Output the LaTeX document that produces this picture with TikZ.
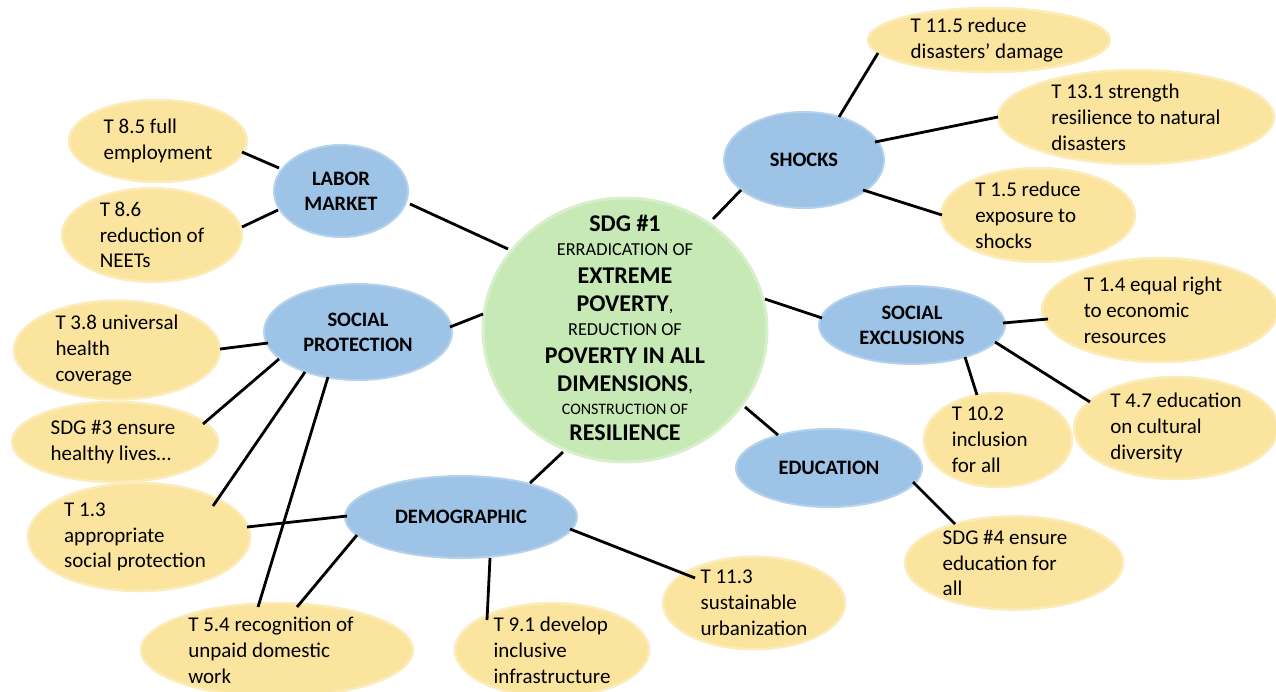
\documentclass[tikz,border=0pt]{standalone}
\usepackage{fontspec}
\setmainfont{Carlito}
\usetikzlibrary{shapes.geometric,calc}
\definecolor{ylw}{HTML}{FBE49E}
\definecolor{blu}{HTML}{9DC3E6}
\definecolor{grn}{HTML}{C6E9B5}
\newcommand{\bigb}{\fontsize{24}{24}\selectfont\bfseries}
\newcommand{\padr}[1]{\hspace*{#1pt}}
\tikzset{
  tgt/.style={ellipse, fill=ylw, draw=ylw!70!white, line width=2.5pt, inner sep=0pt, align=left,
    font=\fontsize{21}{25.8}\selectfont},
  cat/.style={ellipse, fill=blu, draw=blu!75!white, line width=2pt, inner sep=0pt, align=center,
    font=\fontsize{20.5}{25}\selectfont\bfseries},
  core/.style={ellipse, fill=grn, draw=grn!70!white, line width=3pt, inner sep=0pt},
  coretext/.style={inner sep=0pt, align=center, font=\fontsize{18.3}{24}\selectfont},
  lnk/.style={line width=2.8pt, black},
}
\begin{document}
\begin{tikzpicture}[x=1pt,y=-1pt]
\useasboundingbox (0,0) rectangle (1276,691);
% central node
\node[core, minimum width=284, minimum height=264] (c) at (625,330) {};
\node[coretext] (ct) at (625,328)
 {{\bigb SDG \#1}\\
  ERRADICATION OF\\[4pt]
  {\bigb EXTREME}\\[4pt]
  {\bigb POVERTY},\\
  REDUCTION OF\\[4pt]
  {\bigb POVERTY IN ALL}\\[4pt]
  {\bigb DIMENSIONS},\\[-1pt]
  {\fontsize{16}{24}\selectfont CONSTRUCTION OF}\\[2pt]
  {\bigb RESILIENCE}};
% categories
\node[cat, minimum width=134, minimum height=92] (lm) at (341,191) {LABOR\\MARKET};
\node[cat, minimum width=188, minimum height=96] (sp) at (358,332) {SOCIAL\\PROTECTION};
\node[cat, minimum width=160, minimum height=96] (sh) at (804,160) {SHOCKS};
\node[cat, minimum width=186, minimum height=78] (se) at (912,325) {SOCIAL\\EXCLUSIONS};
\node[cat, minimum width=186, minimum height=78] (ed) at (829,468) {EDUCATION};
\node[cat, minimum width=232, minimum height=82] (de) at (461,517) {DEMOGRAPHIC};
% targets
\node[tgt, minimum width=178, minimum height=82] (t85) at (158,141) {T 8.5 full\\employment};
\node[tgt, minimum width=180, minimum height=88] (t86) at (152,235) {T 8.6\padr{62}\\reduction of\\NEETs};
\node[tgt, minimum width=206, minimum height=92] (t38) at (117,350) {T 3.8 universal\\health\\coverage};
\node[tgt, minimum width=206, minimum height=80] (s3) at (115,442) {SDG \#3 ensure\padr{4}\\healthy lives…};
\node[tgt, minimum width=222, minimum height=108] (t13) at (139,537) {T 1.3\\appropriate\\social protection\padr{8}};
\node[tgt, minimum width=272, minimum height=92] (t54) at (277,650) {T 5.4 recognition of\padr{12}\\unpaid domestic\\work};
\node[tgt, minimum width=194, minimum height=92] (t91) at (552,650) {T 9.1 develop\\inclusive\\infrastructure};
\node[tgt, minimum width=182, minimum height=86] (t113) at (754,603) {T 11.3\\sustainable\\urbanization};
\node[tgt, minimum width=218, minimum height=92] (s4) at (1014,563) {SDG \#4 ensure\padr{18}\\education for\\all};
\node[tgt, minimum width=148, minimum height=94] (t102) at (998,440) {T 10.2\padr{40}\\inclusion\\for all};
\node[tgt, minimum width=204, minimum height=102] (t47) at (1176,428) {T 4.7 education\\on cultural\\diversity};
\node[tgt, minimum width=236, minimum height=104] (t14) at (1160,310) {T 1.4 equal right\padr{14}\\to economic\\resources};
\node[tgt, minimum width=194, minimum height=86] (t15) at (1038,215) {T 1.5 reduce\padr{20}\\exposure to\\shocks};
\node[tgt, minimum width=276, minimum height=94] (t131) at (1136,117) {T 13.1 strength\\resilience to natural\padr{8}\\disasters};
\node[tgt, minimum width=242, minimum height=64] (t115) at (989,40) {T 11.5 reduce\\disasters’ damage\padr{4}};
% links to the centre
\draw[lnk] ($(lm)+(69,13)$) -- ($(c)+(-117,-81)$);
\draw[lnk] ($(sp)+(92,-5)$) -- ($(c)+(-142,-16)$);
\draw[lnk] ($(sh)+(-63,30)$) -- ($(c)+(88,-111)$);
\draw[lnk] ($(se)+(-90,-7)$) -- ($(c)+(140,-31)$);
\draw[lnk] ($(ed)+(-51,-33)$) -- ($(c)+(120,77)$);
\draw[lnk] ($(de)+(69,-34)$) -- ($(c)+(-62,122)$);
% links to targets
\draw[lnk] ($(lm)+(-62,-23)$) -- ($(t85)+(84,11)$);
\draw[lnk] ($(lm)+(-63,19)$) -- ($(t86)+(90,-8)$);
\draw[lnk] ($(sp)+(-90,11)$) -- ($(t38)+(103,-1)$);
\draw[lnk] ($(sp)+(-79,27)$) -- ($(s3)+(88,-18)$);
\draw[lnk] ($(sp)+(-53,40)$) -- ($(t13)+(74,-31)$);
\draw[lnk] ($(sp)+(-30,45)$) -- ($(t54)+(-19,-43)$);
\draw[lnk] ($(de)+(-114,-1)$) -- ($(t13)+(108,-10)$);
\draw[lnk] ($(de)+(-104,18)$) -- ($(t54)+(20,-43)$);
\draw[lnk] ($(de)+(29,41)$) -- ($(t91)+(-65,-30)$);
\draw[lnk] ($(de)+(109,12)$) -- ($(t113)+(-59,-25)$);
\draw[lnk] ($(sh)+(35,-43)$) -- ($(t115)+(-111,13)$);
\draw[lnk] ($(sh)+(71,-18)$) -- ($(t131)+(-138,0)$);
\draw[lnk] ($(sh)+(59,30)$) -- ($(t15)+(-96,0)$);
\draw[lnk] ($(se)+(91,-2)$) -- ($(t14)+(-112,9)$);
\draw[lnk] ($(se)+(53,32)$) -- ($(t102)+(-21,-45)$);
\draw[lnk] ($(se)+(83,17)$) -- ($(t47)+(-86,-26)$);
\draw[lnk] ($(ed)+(84,14)$) -- ($(s4)+(-59,-39)$);
\end{tikzpicture}
\end{document}
